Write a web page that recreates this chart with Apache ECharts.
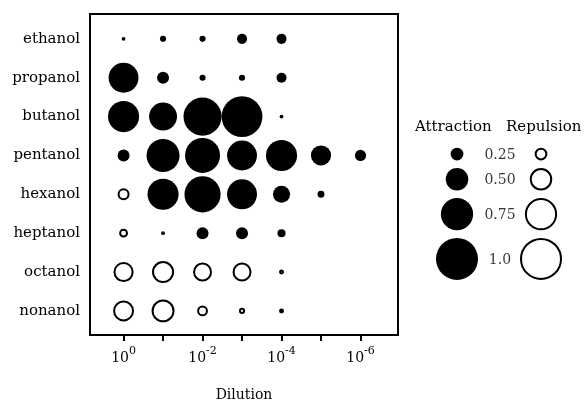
<!DOCTYPE html>
<html>
<head>
<meta charset="utf-8">
<script src="https://cdn.jsdelivr.net/npm/echarts@6/dist/echarts.min.js"></script>
<style>html,body{margin:0;padding:0;background:#fff;}#c{width:585px;height:400px;}</style>
</head>
<body>
<div id="c"></div>
<script>
// Rows (alcohols) and columns (dilution exponents: 10^0 ... 10^-6)
const alcohols = ['ethanol','propanol','butanol','pentanol','hexanol','heptanol','octanol','nonanol'];
const dilutionExponents = [0,1,2,3,4,5,6];
const xTickLabels = [0,2,4,6];
// Response per dilution: positive = attraction (filled), negative = repulsion (open), null = not tested
const ethanol  = [0.02, 0.08, 0.08, 0.18, 0.18, null, null];
const propanol = [0.69, 0.23, 0.08, 0.08, 0.18, null, null];
const butanol  = [0.72, 0.64, 0.90, 0.97, 0.02, null, null];
const pentanol = [0.23, 0.77, 0.82, 0.69, 0.72, 0.44, 0.21];
const hexanol  = [-0.23, 0.72, 0.85, 0.69, 0.36, 0.10, null];
const heptanol = [-0.15, 0.02, 0.23, 0.23, 0.13, null, null];
const octanol  = [-0.44, -0.49, -0.41, -0.41, -0.05, null, null];
const nonanol  = [-0.46, -0.51, -0.20, -0.08, 0.05, null, null];
const rows = [ethanol, propanol, butanol, pentanol, hexanol, heptanol, octanol, nonanol];
// Legend key
const legendLevels = [0.25, 0.50, 0.75, 1.0];
const legendLabels = ['0.25', '0.50', '0.75', '1.0'];

const FONT = 'DejaVu Serif';
const sz = v => 3 + 39 * Math.abs(v);

const attraction = [], repulsion = [];
rows.forEach((row, r) => row.forEach((v, c) => {
  if (v == null) return;
  if (v > 0) attraction.push([dilutionExponents[c], r, v]);
  else repulsion.push([dilutionExponents[c], r, -v]);
}));

// legend key layout (pixel units inside legend grid): stacked by circle size
const legendY = [];
legendLevels.forEach((v, i) => {
  if (i === 0) legendY.push(154);
  else legendY.push(legendY[i - 1] + (sz(legendLevels[i - 1]) + sz(v)) / 2 + 7.6);
});
const legAttr = legendLevels.map((v, i) => [57, legendY[i], v]);
const legRep = legendLevels.map((v, i) => [141, legendY[i], v]);
const legLab = legendLevels.map((v, i) => [100, legendY[i] + 1, v, legendLabels[i]]);

const chart = echarts.init(document.getElementById('c'), null, {renderer: 'canvas'});
chart.setOption({
  backgroundColor: '#fff',
  animation: false,
  textStyle: {fontFamily: FONT, color: '#000'},
  grid: [
    {left: 90, top: 14, width: 308, height: 321, outerBoundsMode: 'none', containLabel: false,
     show: true, borderColor: '#000', borderWidth: 2, backgroundColor: 'transparent'},
    {left: 400, top: 0, width: 185, height: 400, outerBoundsMode: 'none', containLabel: false, show: false}
  ],
  xAxis: [
    {
      type: 'value', gridIndex: 0, min: -0.85, max: 6.95,
      splitLine: {show: false},
      axisLine: {show: true, onZero: false, lineStyle: {color: '#000', width: 2}},
      axisTick: {show: true, customValues: dilutionExponents, length: 6, inside: false, lineStyle: {color: '#000', width: 2}},
      axisLabel: {
        show: true, customValues: xTickLabels, margin: 11, color: '#000',
        formatter: v => '{b|10}{s|' + (v === 0 ? '0' : '-' + v) + '}',
        rich: {
          b: {fontFamily: FONT, fontSize: 14, color: '#000', verticalAlign: 'bottom'},
          s: {fontFamily: FONT, fontSize: 11, color: '#000', verticalAlign: 'bottom', padding: [0, 0, 8, 0]}
        }
      },
      name: 'Dilution', nameLocation: 'middle', nameGap: 53,
      nameTextStyle: {fontFamily: FONT, fontSize: 14, color: '#000'}
    },
    {type: 'value', gridIndex: 1, min: 0, max: 185, show: false}
  ],
  yAxis: [
    {
      type: 'value', gridIndex: 0, min: -0.64, max: 7.62, inverse: true,
      splitLine: {show: false},
      axisLine: {show: true, onZero: false, lineStyle: {color: '#000', width: 2}},
      axisTick: {show: false},
      axisLabel: {
        show: true, customValues: alcohols.map((_, i) => i), margin: 10,
        fontFamily: FONT, fontSize: 15, color: '#000',
        formatter: v => alcohols[v]
      }
    },
    {type: 'value', gridIndex: 1, min: 0, max: 400, inverse: true, show: false}
  ],
  series: [
    {
      name: 'Attraction', type: 'scatter', xAxisIndex: 0, yAxisIndex: 0,
      data: attraction, symbol: 'circle',
      symbolSize: d => sz(d[2]),
      itemStyle: {color: '#000', opacity: 1}
    },
    {
      name: 'Repulsion', type: 'scatter', xAxisIndex: 0, yAxisIndex: 0,
      data: repulsion, symbol: 'circle',
      symbolSize: d => sz(d[2]) - 2,
      itemStyle: {color: '#fff', borderColor: '#000', borderWidth: 2, opacity: 1}
    },
    {
      name: 'legendAttraction', type: 'scatter', xAxisIndex: 1, yAxisIndex: 1,
      data: legAttr, symbol: 'circle', symbolSize: d => sz(d[2]),
      itemStyle: {color: '#000', opacity: 1}, silent: true
    },
    {
      name: 'legendRepulsion', type: 'scatter', xAxisIndex: 1, yAxisIndex: 1,
      data: legRep, symbol: 'circle', symbolSize: d => sz(d[2]) - 2,
      itemStyle: {color: '#fff', borderColor: '#000', borderWidth: 2, opacity: 1}, silent: true
    },
    {
      name: 'legendLabels', type: 'scatter', xAxisIndex: 1, yAxisIndex: 1,
      data: legLab, symbolSize: 0, silent: true,
      label: {show: true, position: 'inside', formatter: p => p.data[3],
        fontFamily: FONT, fontSize: 14, color: '#000'}
    }
  ],
  graphic: [
    {type: 'text', left: 415, top: 120, style: {text: 'Attraction', fontFamily: FONT, fontSize: 15, fill: '#000'}},
    {type: 'text', left: 506, top: 120, style: {text: 'Repulsion', fontFamily: FONT, fontSize: 15, fill: '#000'}}
  ]
});
</script>
</body>
</html>
